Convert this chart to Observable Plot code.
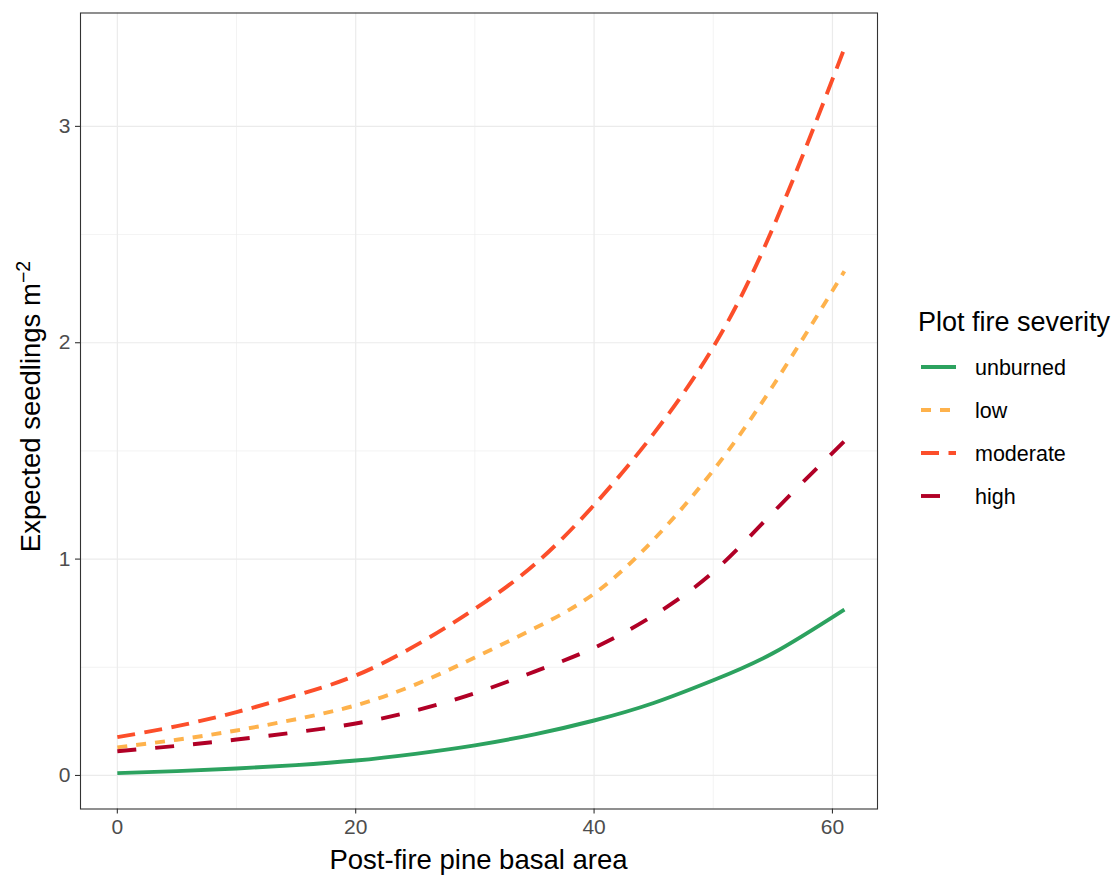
<!DOCTYPE html>
<html>
<head>
<meta charset="utf-8">
<script src="https://cdn.jsdelivr.net/npm/d3@7"></script>
<script src="https://cdn.jsdelivr.net/npm/@observablehq/plot@0.6"></script>
<style>
  html, body { margin: 0; padding: 0; background: #fff; }
  #wrap { position: relative; width: 1117px; height: 876px; font-family: "Liberation Sans", Arial, sans-serif; }
</style>
</head>
<body>
<div id="wrap"></div>
<script>
// ---- data ----
const basalArea = [0, 5, 10, 15, 20, 25, 30, 35, 40, 45, 50, 55, 61];
const unburned  = [0.011, 0.020, 0.032, 0.048, 0.069, 0.100, 0.139, 0.190, 0.254, 0.335, 0.440, 0.565, 0.767];
const low       = [0.130, 0.165, 0.208, 0.260, 0.324, 0.420, 0.545, 0.680, 0.840, 1.090, 1.410, 1.800, 2.330];
const moderate  = [0.177, 0.228, 0.293, 0.370, 0.462, 0.600, 0.770, 0.975, 1.250, 1.580, 1.980, 2.530, 3.360];
const high      = [0.112, 0.137, 0.166, 0.200, 0.240, 0.300, 0.380, 0.480, 0.590, 0.740, 0.940, 1.215, 1.545];
const severities = ["unburned", "low", "moderate", "high"];
const seriesValues = [unburned, low, moderate, high];
const colors = ["#2ca25f", "#feb24c", "#fc4e2a", "#b10026"];
const dashes = [null, "10,9", "18,9.5", "19,19"];
const xTicks = [0, 20, 40, 60];
const xMinor = [10, 30, 50];
const yTicks = [0, 1, 2, 3];
const yMinor = [0.5, 1.5, 2.5];

const rows = severities.map((s, i) => basalArea.map((x, j) => ({severity: s, x, y: seriesValues[i][j]})));

const W = 1117, H = 876;
const mL = 80, mT = 12.5, mR = 240, mB = 67.5;

const lineMarks = rows.map((data, i) => Plot.line(data, {
  x: "x", y: "y", stroke: colors[i], strokeWidth: 3.9,
  strokeDasharray: dashes[i], strokeLinecap: "butt", curve: "natural"
}));

const chart = Plot.plot({
  width: W, height: H,
  marginLeft: mL, marginTop: mT, marginRight: mR, marginBottom: mB,
  style: {fontFamily: "'Liberation Sans', Arial, sans-serif", fontSize: "21px", color: "#4d4d4d", background: "#fff"},
  x: {domain: [-3.09, 63.78], label: null},
  y: {domain: [-0.155, 3.524], label: null},
  marks: [
    Plot.ruleX(xMinor, {stroke: "#ebebeb", strokeWidth: 0.6}),
    Plot.ruleY(yMinor, {stroke: "#ebebeb", strokeWidth: 0.6}),
    Plot.ruleX(xTicks, {stroke: "#ebebeb", strokeWidth: 1.2}),
    Plot.ruleY(yTicks, {stroke: "#ebebeb", strokeWidth: 1.2}),
    ...lineMarks,
    Plot.frame({stroke: "#333", strokeWidth: 1.1}),
    Plot.axisX(xTicks, {tickSize: 5, tickPadding: 5, stroke: "#333", strokeWidth: 1.1, fill: "#4d4d4d", fontSize: 21, tickFormat: "d", label: null}),
    Plot.axisY(yTicks, {tickSize: 5, tickPadding: 5, stroke: "#333", strokeWidth: 1.1, fill: "#4d4d4d", fontSize: 21, tickFormat: "d", label: null})
  ]
});

const wrap = document.getElementById("wrap");
wrap.appendChild(chart);

const svg = d3.select(chart);
const panelCx = mL + (W - mR - mL) / 2;
const panelCy = mT + (H - mB - mT) / 2;
const FONT = "'Liberation Sans', Arial, sans-serif";

// axis titles
svg.append("text")
  .attr("x", panelCx).attr("y", 869)
  .attr("text-anchor", "middle")
  .attr("fill", "#000")
  .style("font-family", FONT)
  .style("font-size", "27.5px")
  .text("Post-fire pine basal area");
const yt = svg.append("text")
  .attr("transform", `translate(40,${panelCy - 4}) rotate(-90)`)
  .attr("text-anchor", "middle")
  .attr("fill", "#000")
  .style("font-family", FONT)
  .style("font-size", "27.5px");
yt.append("tspan").text("Expected seedlings m");
yt.append("tspan").attr("dy", "-0.5em").style("font-size", "19.5px").text("\u22122");

// legend (to the right of the panel)
const lg = svg.append("g").style("font-family", FONT).attr("fill", "#000").attr("text-anchor", "start");
lg.append("text").attr("x", 918).attr("y", 331).attr("text-anchor", "start")
  .style("font-size", "27px").text("Plot fire severity");
severities.forEach((s, i) => {
  const cy = 367 + 43 * i;
  lg.append("line").attr("x1", 921).attr("x2", 956).attr("y1", cy).attr("y2", cy)
    .attr("stroke", colors[i]).attr("stroke-width", 3.9)
    .attr("stroke-dasharray", dashes[i]);
  lg.append("text").attr("x", 975).attr("y", cy).attr("dy", "0.36em").attr("text-anchor", "start")
    .style("font-size", "21.5px").text(s);
});
</script>
</body>
</html>
